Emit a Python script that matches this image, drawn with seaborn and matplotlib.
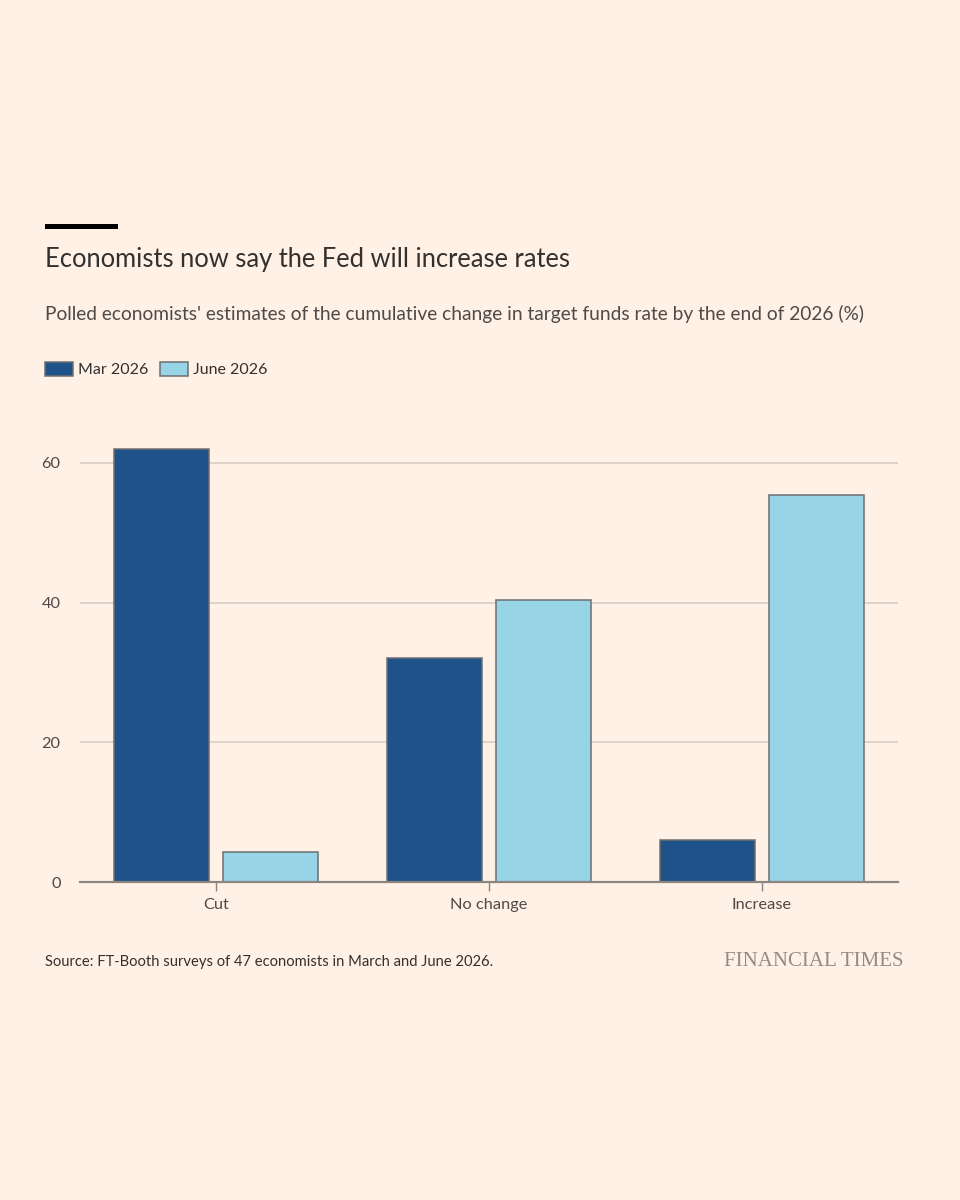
import pandas as pd
import seaborn as sns
import matplotlib.pyplot as plt
from matplotlib.patches import Rectangle
from matplotlib import font_manager

# Data (share of polled economists, %)
categories = ["Cut", "No change", "Increase"]
periods = ["Mar 2026", "June 2026"]
mar_values = [62.0, 32.0, 6.0]
june_values = [4.3, 40.4, 55.4]
y_ticks = [0, 20, 40, 60]

df = pd.DataFrame({
    "category": categories * 2,
    "period": [periods[0]] * 3 + [periods[1]] * 3,
    "value": mar_values + june_values,
})

# === Style ===
sns.set_theme(style="white")
installed = {f.name for f in font_manager.fontManager.ttflist}
sans = "Liberation Sans Narrow" if "Liberation Sans Narrow" in installed else "Lato"
plt.rcParams["font.family"] = [sans, "DejaVu Sans"]

bg = "#fef0e4"
panel = "#fff1e6"
text_dark = "#33302e"
text_mid = "#4f4a47"
grid_col = "#dccfc5"
axis_col = "#8d857f"

fig = plt.figure(figsize=(9.6, 12), dpi=100, facecolor=bg)
fig.add_artist(Rectangle((16 / 960, 1 - 1012 / 1200), 928 / 960, 824 / 1200,
                         transform=fig.transFigure, facecolor=panel,
                         edgecolor="none", zorder=-1))

ax = fig.add_axes([80 / 960, 1 - 882 / 1200, 818 / 960, (882 - 428) / 1200])
ax.set_facecolor("none")

sns.barplot(data=df, x="category", y="value", hue="period",
            palette=["#1f5289", "#98d4e8"], saturation=1, width=0.8, gap=0.13,
            edgecolor="#6e6e6e", linewidth=1.1, errorbar=None, ax=ax,
            zorder=3)

ax.set_xlim(-0.5, 2.5)
ax.set_ylim(0, 65)
ax.set_yticks(y_ticks)
ax.set_yticklabels([str(t) for t in y_ticks])
ax.set_xlabel("")
ax.set_ylabel("")
for t in y_ticks[1:]:
    ax.axhline(t, color=grid_col, lw=1.3, zorder=1)

for s in ["top", "right", "left"]:
    ax.spines[s].set_visible(False)
ax.spines["bottom"].set_color(axis_col)
ax.spines["bottom"].set_linewidth(1.6)
ax.spines["bottom"].set_zorder(4)

ax.tick_params(axis="y", length=0, pad=14, labelsize=11.8, labelcolor=text_mid)
ax.tick_params(axis="x", length=6.5, width=1, color=axis_col, pad=5,
               labelsize=11.8, labelcolor=text_mid, bottom=True)

# Legend at top left
ax.legend(loc="upper left", bbox_to_anchor=(45 / 960, 1 - 362 / 1200),
          bbox_transform=fig.transFigure, ncol=2, frameon=False,
          fontsize=11.5, handlelength=1.75, handleheight=0.95,
          handletextpad=0.3, columnspacing=0.75, borderaxespad=0,
          borderpad=0, labelcolor=text_dark)

# Titles and decorations
fig.add_artist(Rectangle((45 / 960, 1 - 229 / 1200), 73 / 960, 5 / 1200,
                         transform=fig.transFigure, facecolor="black",
                         edgecolor="none"))
fig.text(45 / 960, 1 - 259 / 1200, "Economists now say the Fed will increase rates",
         fontsize=18.4, color=text_dark, va="center", ha="left")
fig.text(45 / 960, 1 - 314 / 1200,
         "Polled economists' estimates of the cumulative change in target funds rate by the end of 2026 (%)",
         fontsize=13.8, color=text_mid, va="center", ha="left")
fig.text(45 / 960, 1 - 962 / 1200,
         "Source: FT-Booth surveys of 47 economists in March and June 2026.",
         fontsize=10.6, color=text_dark, va="center", ha="left")
fig.text(903 / 960, 1 - 961 / 1200, "FINANCIAL TIMES", fontsize=15,
         family=["Liberation Serif", "DejaVu Serif"], color="#968b83",
         va="center", ha="right")

plt.savefig("out.png", dpi=100, facecolor=bg)
plt.close()
